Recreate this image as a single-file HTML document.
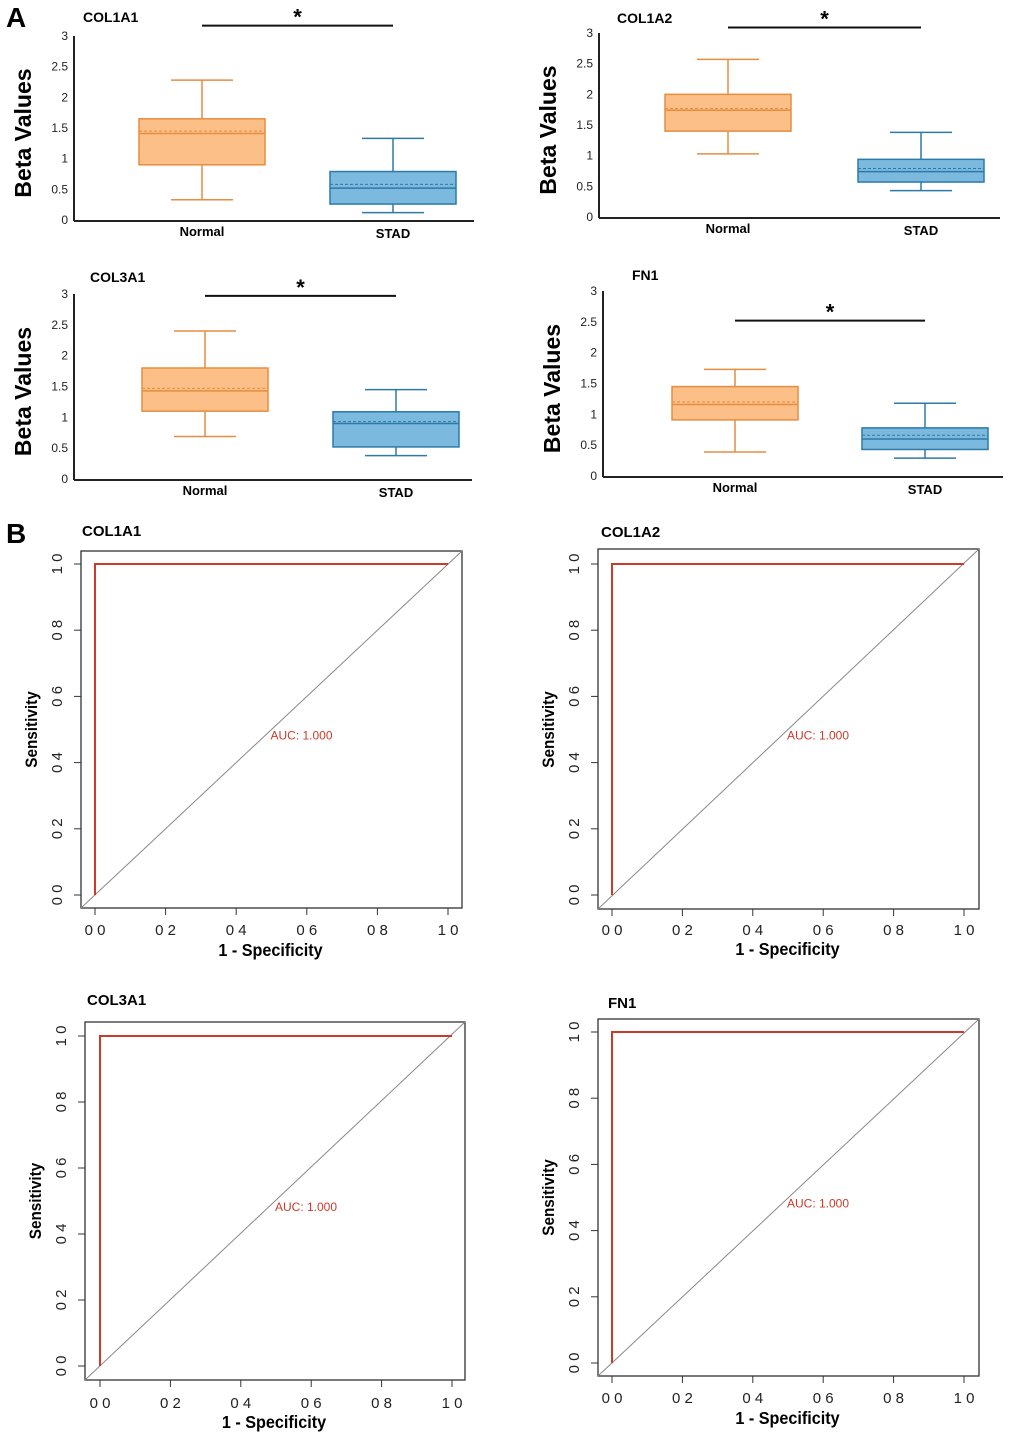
<!DOCTYPE html>
<html><head><meta charset="utf-8"><style>
body{margin:0;background:#fff;}
svg{display:block;font-family:"Liberation Sans",Arial,sans-serif;}
</style></head><body>
<svg id="fig" width="1020" height="1442" viewBox="0 0 1020 1442">
<text x="6" y="27" font-size="28" font-weight="bold">A</text>
<text x="6" y="543" font-size="28" font-weight="bold">B</text>
</svg>
<script>
// ---- Box plot data ----
const genes = ["COL1A1","COL1A2","COL3A1","FN1"];
const groups = ["Normal","STAD"];
const yTicks = [0,0.5,1,1.5,2,2.5,3];
const yTickLabels = ["0","0.5","1","1.5","2","2.5","3"];
const normalMin = [0.33,1.03,0.69,0.39];
const normalQ1 = [0.90,1.40,1.10,0.91];
const normalMed = [1.41,1.74,1.43,1.16];
const normalMean = [1.45,1.77,1.47,1.20];
const normalQ3 = [1.65,2.00,1.80,1.45];
const normalMax = [2.28,2.57,2.40,1.73];
const stadMin = [0.12,0.43,0.38,0.29];
const stadQ1 = [0.26,0.57,0.52,0.43];
const stadMed = [0.52,0.74,0.90,0.60];
const stadMean = [0.58,0.79,0.93,0.66];
const stadQ3 = [0.79,0.94,1.09,0.78];
const stadMax = [1.33,1.38,1.45,1.18];
const sigHeight = [3.17,3.09,2.97,2.52];
// ---- ROC data ----
const rocFpr = [0,0,1];
const rocTpr = [0,1,1];
const rocTicks = [0,0.2,0.4,0.6,0.8,1.0];
const rocTickLabels = ["0 0","0 2","0 4","0 6","0 8","1 0"];
const aucValues = ["1.000","1.000","1.000","1.000"];

const NS="http://www.w3.org/2000/svg";
const svg=document.getElementById('fig');
function el(tag,attrs,parent,txt){const e=document.createElementNS(NS,tag);for(const k in attrs)e.setAttribute(k,attrs[k]);if(txt!==undefined)e.textContent=txt;(parent||svg).appendChild(e);return e;}

const boxLayout=[
 {ax:74,y0:220,y3:36,xEnd:474,cx:[202,393],tx:83,ty:22},
 {ax:599,y0:217,y3:33,xEnd:1000,cx:[728,921],tx:617,ty:23},
 {ax:74,y0:479,y3:294,xEnd:472,cx:[205,396],tx:90,ty:282},
 {ax:603,y0:476,y3:291,xEnd:1003,cx:[735,925],tx:632,ty:280}
];
const fills=[["#fdbf88","#e58e40"],["#7cb9de","#2c7aa8"]];
boxLayout.forEach((L,i)=>{
 const g=el('g',{});
 
 
 const y=v=>L.y0-(v/3)*(L.y0-L.y3);
 const t=el('text',{x:L.tx,y:L.ty,'font-size':14,'font-weight':'bold'},g,genes[i]);
 
 const yl=el('text',{x:0,y:0,'font-size':23,'font-weight':'bold','text-anchor':'middle',transform:`translate(${L.ax-43},${(L.y0+L.y3)/2+5}) rotate(-90)`},g,'Beta Values');
 
 el('line',{x1:L.ax,y1:L.y3,x2:L.ax,y2:L.y0+1,stroke:'#222','stroke-width':2},g);
 el('line',{x1:L.ax,y1:L.y0+1,x2:L.xEnd,y2:L.y0+1,stroke:'#222','stroke-width':2},g);
 yTicks.forEach((v,k)=>{const tt=el('text',{x:L.ax-6,y:y(v)+4,'font-size':12,'text-anchor':'end',fill:'#222'},g,yTickLabels[k]);
  });
 const sets=[[normalMin,normalQ1,normalMed,normalMean,normalQ3,normalMax],[stadMin,stadQ1,stadMed,stadMean,stadQ3,stadMax]];
 sets.forEach((s,j)=>{
  const cx=L.cx[j],hw=63,[f,st]=fills[j];
  const [mn,q1,md,me,q3,mx]=s.map(a=>a[i]);
  const bg=el('g',{},g);
  el('line',{x1:cx,y1:y(mx),x2:cx,y2:y(q3),stroke:st,'stroke-width':1.5},bg);
  el('line',{x1:cx,y1:y(q1),x2:cx,y2:y(mn),stroke:st,'stroke-width':1.5},bg);
  el('line',{x1:cx-31,y1:y(mx),x2:cx+31,y2:y(mx),stroke:st,'stroke-width':1.5},bg);
  el('line',{x1:cx-31,y1:y(mn),x2:cx+31,y2:y(mn),stroke:st,'stroke-width':1.5},bg);
  el('rect',{x:cx-hw,y:y(q3),width:2*hw,height:y(q1)-y(q3),fill:f,stroke:st,'stroke-width':1.5},bg);
  el('line',{x1:cx-hw,y1:y(md),x2:cx+hw,y2:y(md),stroke:st,'stroke-width':1.5},bg);
  el('line',{x1:cx-hw,y1:y(me),x2:cx+hw,y2:y(me),stroke:st,'stroke-width':1,'stroke-dasharray':'3,2'},bg);
  const xl=el('text',{x:cx,y:L.y0+(j?18:16),'font-size':13,'font-weight':'bold','text-anchor':'middle'},g,groups[j]);
  
 });
 const sy=y(sigHeight[i]);
 const sl=el('line',{x1:L.cx[0],y1:sy,x2:L.cx[1],y2:sy,stroke:'#111','stroke-width':2},g);
 
 const star=el('text',{x:(L.cx[0]+L.cx[1])/2,y:sy-1,'font-size':22,'font-weight':'bold','text-anchor':'middle'},g,'*');
 
});

const rocLayout=[
 {bx1:81,by1:551,bx2:462,by2:908,x0:95,x1:448,yy1:564,yy0:895,tx:82,ty:536,lab:935,title:956},
 {bx1:598,by1:549,bx2:979,by2:909,x0:612,x1:964,yy1:564,yy0:895,tx:601,ty:537,lab:935,title:955},
 {bx1:85,by1:1022,bx2:465,by2:1380,x0:100,x1:452,yy1:1036,yy0:1366,tx:87,ty:1005,lab:1408,title:1428},
 {bx1:598,by1:1019,bx2:979,by2:1376,x0:612,x1:964,yy1:1032,yy0:1363,tx:608,ty:1008,lab:1403,title:1424}
];
rocLayout.forEach((L,i)=>{
 const g=el('g',{});
 
 
 const X=v=>L.x0+v*(L.x1-L.x0), Y=v=>L.yy0-v*(L.yy0-L.yy1);
 const t=el('text',{x:L.tx,y:L.ty,'font-size':15,'font-weight':'bold'},g,genes[i]);
 
 el('rect',{x:L.bx1,y:L.by1,width:L.bx2-L.bx1,height:L.by2-L.by1,fill:'none',stroke:'#333','stroke-width':1.3},g);
 const d=el('line',{x1:L.bx1,y1:L.by2,x2:L.bx2,y2:L.by1,stroke:'#888','stroke-width':1},g);
 
 const pts=rocFpr.map((f,k)=>X(f)+','+Y(rocTpr[k])).join(' ');
 const c=el('polyline',{points:pts,fill:'none',stroke:'#cc3b2a','stroke-width':2},g);
 
 rocTicks.forEach((v,k)=>{
  el('line',{x1:X(v),y1:L.by2,x2:X(v),y2:L.by2+7,stroke:'#333'},g);
  const xt=el('text',{x:X(v),y:L.lab,'font-size':15,'text-anchor':'middle',fill:'#222'},g,rocTickLabels[k]);
  
  el('line',{x1:L.bx1-7,y1:Y(v),x2:L.bx1,y2:Y(v),stroke:'#333'},g);
  const yt=el('text',{x:0,y:0,'font-size':15,'text-anchor':'middle',fill:'#222',transform:`translate(${L.bx1-19},${Y(v)}) rotate(-90)`},g,rocTickLabels[k]);
  
 });
 const xa=el('text',{x:0,y:0,'font-size':18,'font-weight':'bold','text-anchor':'middle',transform:`translate(${(L.bx1+L.bx2)/2-1},${L.title}) scale(0.9,1)`},g,'1 - Specificity');
 
 const ya=el('text',{x:0,y:0,'font-size':17,'font-weight':'bold','text-anchor':'middle',transform:`translate(${L.bx1-44},${(L.yy0+L.yy1)/2}) rotate(-90) scale(0.9,1)`},g,'Sensitivity');
 
 const au=el('text',{x:X(0.5)-1,y:Y(0.5)+10,'font-size':12,fill:'#cc3b2a'},g,'AUC: '+aucValues[i]);
 
});
</script>
</body></html>
